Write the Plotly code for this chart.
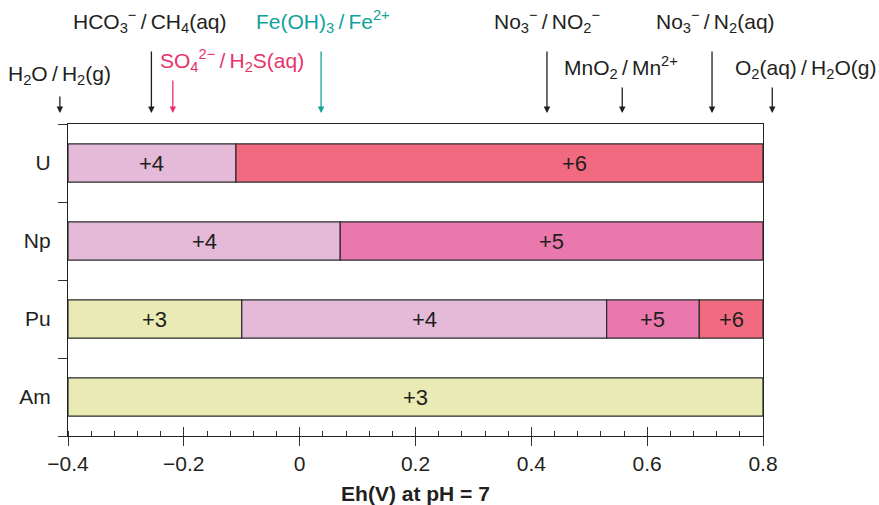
import plotly.graph_objects as go

# Oxidation-state stability fields versus Eh at pH 7
species = ["U", "Np", "Pu", "Am"]
u_bounds = [-0.4, -0.11, 0.8]
u_states = ["+4", "+6"]
np_bounds = [-0.4, 0.07, 0.8]
np_states = ["+4", "+5"]
pu_bounds = [-0.4, -0.10, 0.53, 0.69, 0.8]
pu_states = ["+3", "+4", "+5", "+6"]
am_bounds = [-0.4, 0.8]
am_states = ["+3"]

# Redox couples at pH 7 (V)
S = "\u2009/\u2009"
couple_labels = [
    "H<sub>2</sub>O" + S + "H<sub>2</sub>(g)",
    "HCO<sub>3</sub><sup>−</sup>" + S + "CH<sub>4</sub>(aq)",
    "SO<sub>4</sub><sup>2−</sup>" + S + "H<sub>2</sub>S(aq)",
    "Fe(OH)<sub>3</sub>" + S + "Fe<sup>2+</sup>",
    "No<sub>3</sub><sup>−</sup>" + S + "NO<sub>2</sub><sup>−</sup>",
    "MnO<sub>2</sub>" + S + "Mn<sup>2+</sup>",
    "No<sub>3</sub><sup>−</sup>" + S + "N<sub>2</sub>(aq)",
    "O<sub>2</sub>(aq)" + S + "H<sub>2</sub>O(g)",
]
couple_eh = [-0.414, -0.256, -0.219, 0.037, 0.427, 0.557, 0.712, 0.816]

X_MIN, X_MAX = -0.4, 0.8

state_colors = {
    "+3": "#EAEAB4",
    "+4": "#E4BAD8",
    "+5": "#EA78AC",
    "+6": "#F26A80",
}
TEXT = "#231F20"
RED = "#E8336A"
TEAL = "#12A19B"
FONT = "Liberation Sans"

fields = {
    "U": (u_bounds, u_states),
    "Np": (np_bounds, np_states),
    "Pu": (pu_bounds, pu_states),
    "Am": (am_bounds, am_states),
}
# label placement for the wide uranium +6 field
label_shift = {("U", "+6"): 0.475}


def to_paper(v):
    return (v - X_MIN) / (X_MAX - X_MIN)


fig = go.Figure()
annotations = []
for sp in species:
    bounds, states = fields[sp]
    for i, st in enumerate(states):
        lo, hi = bounds[i], bounds[i + 1]
        fig.add_trace(go.Bar(
            y=[sp], x=[hi - lo], base=[lo], orientation="h",
            width=0.49,
            marker=dict(color=state_colors[st], line=dict(color="#2a2a2a", width=1.2)),
            showlegend=False, hoverinfo="skip",
        ))
        lx = label_shift.get((sp, st), (lo + hi) / 2)
        annotations.append(dict(
            x=lx, y=sp, xref="x", yref="y", text=st, showarrow=False,
            font=dict(size=22, color=TEXT, family=FONT),
        ))

# redox couple arrows and labels
arrow_len = [18, 63, 34, 63, 63, 27, 63, 27]
label_y = [1.157, 1.327, 1.205, 1.327, 1.327, 1.180, 1.327, 1.175]
label_x = [-0.414, -0.258, -0.117, 0.041, 0.427, 0.554, 0.718, 0.874]
arrow_colors = [TEXT, TEXT, RED, TEAL, TEXT, TEXT, TEXT, TEXT]
for lab, eh, al, ly, lx, c in zip(couple_labels, couple_eh, arrow_len, label_y, label_x, arrow_colors):
    annotations.append(dict(
        x=to_paper(eh), y=1.035, xref="paper", yref="paper", text="", showarrow=True,
        ax=0, ay=-al, arrowhead=2, arrowsize=1.0, arrowwidth=1.3, arrowcolor=c,
    ))
    annotations.append(dict(
        x=to_paper(lx), y=ly, xref="paper", yref="paper", text=lab, showarrow=False,
        font=dict(size=21, color=c, family=FONT), xanchor="center", yanchor="middle",
    ))

fig.update_layout(
    width=879, height=505,
    margin=dict(l=68, r=116, t=124, b=69),
    plot_bgcolor="white", paper_bgcolor="white",
    barmode="overlay",
    annotations=annotations,
    font=dict(family=FONT, color=TEXT, size=21),
    xaxis=dict(
        range=[X_MIN, X_MAX], dtick=0.2, tick0=-0.4, automargin=False,
        ticks="outside", ticklen=9, tickwidth=1.3, tickcolor="#333",
        showline=True, linecolor="#222", linewidth=1.3, mirror=True,
        showgrid=False, zeroline=False,
        tickfont=dict(size=21, color=TEXT, family=FONT),
        minor=dict(dtick=0.04, ticks="inside", ticklen=5, tickwidth=1.1, tickcolor="#333"),
        title=dict(text="<b>Eh(V) at pH = 7</b>", font=dict(size=21, color=TEXT, family=FONT), standoff=14),
    ),
    xaxis2=dict(
        range=[X_MIN, X_MAX], dtick=0.2, tick0=-0.4, overlaying="x", anchor="y", side="bottom",
        ticks="inside", ticklen=9, tickwidth=1.3, tickcolor="#333", automargin=False,
        showticklabels=False, showgrid=False, zeroline=False, showline=False,
    ),
    yaxis=dict(
        type="category", categoryorder="array", categoryarray=species[::-1],
        range=[-0.5, 3.5], automargin=False,
        tickson="boundaries", ticks="outside", ticklen=9, tickwidth=1.3, tickcolor="#333",
        showline=True, linecolor="#222", linewidth=1.3, mirror=True,
        showgrid=False, zeroline=False, ticklabelstandoff=12,
        tickfont=dict(size=21, color=TEXT, family=FONT),
    ),
)
# invisible trace to activate the secondary tick axis
fig.add_trace(go.Scatter(x=[-0.4], y=["Am"], xaxis="x2", mode="markers",
                         marker=dict(opacity=0), showlegend=False, hoverinfo="skip"))

fig.write_html("out.html")
